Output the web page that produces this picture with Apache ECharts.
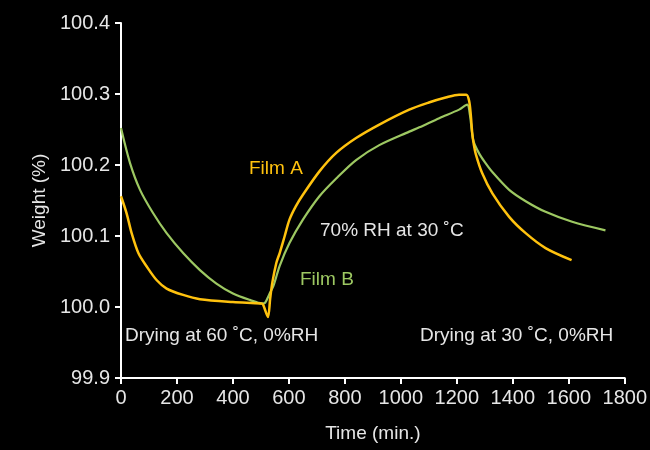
<!DOCTYPE html>
<html>
<head>
<meta charset="utf-8">
<script src="https://cdn.jsdelivr.net/npm/echarts@6/dist/echarts.min.js"></script>
<style>
html,body{margin:0;padding:0;background:#000;}
#chart{width:650px;height:450px;}
</style>
</head>
<body>
<div id="chart"></div>
<script>
const xTicks = [0, 200, 400, 600, 800, 1000, 1200, 1400, 1600, 1800];
const yTicks = [99.9, 100.0, 100.1, 100.2, 100.3, 100.4];

const filmATime = [0, 20, 38, 62, 92, 127, 163, 222, 282, 400, 500, 507, 525, 533, 541, 555, 567, 585, 602, 625, 650, 709, 769, 840, 923, 1030, 1100, 1160, 1208, 1234, 1244, 1250, 1255, 1261, 1268, 1290, 1327, 1387, 1446, 1517, 1610];
const filmAWeight = [100.156, 100.132, 100.104, 100.076, 100.057, 100.038, 100.026, 100.017, 100.011, 100.007, 100.005, 100.004, 99.986, 100.012, 100.035, 100.062, 100.076, 100.100, 100.123, 100.142, 100.158, 100.191, 100.217, 100.238, 100.257, 100.278, 100.288, 100.295, 100.299, 100.299, 100.290, 100.270, 100.245, 100.228, 100.215, 100.189, 100.160, 100.127, 100.104, 100.083, 100.066];

const filmBTime = [0, 32, 68, 115, 163, 222, 282, 341, 400, 460, 505, 515, 530, 545, 567, 602, 650, 709, 769, 840, 923, 1030, 1066, 1137, 1208, 1237, 1247, 1253, 1260, 1280, 1300, 1327, 1387, 1446, 1517, 1612, 1731];
const filmBWeight = [100.252, 100.203, 100.165, 100.132, 100.104, 100.076, 100.052, 100.033, 100.019, 100.010, 100.005, 100.006, 100.018, 100.030, 100.058, 100.090, 100.123, 100.156, 100.181, 100.207, 100.228, 100.247, 100.253, 100.266, 100.278, 100.285, 100.270, 100.250, 100.233, 100.216, 100.204, 100.190, 100.165, 100.149, 100.134, 100.120, 100.108];

const seriesNames = ['Film A', 'Film B'];
const annotations = ['Film A', '70% RH at 30 \u02DAC', 'Film B', 'Drying at 60 \u02DAC, 0%RH', 'Drying at 30 \u02DAC, 0%RH'];

const FONT = "'Liberation Sans', Arial, sans-serif";
const ORANGE = '#FFC20E';
const GREEN = '#9DC862';
const TXT = '#E6E6E6';

const zip = (xs, ys) => xs.map((x, i) => [x, ys[i]]);

const chart = echarts.init(document.getElementById('chart'), null, {renderer: 'canvas'});
chart.setOption({
  backgroundColor: '#000',
  animation: false,
  grid: {left: 121, right: 24, top: 23, bottom: 72},
  xAxis: {
    type: 'value',
    min: xTicks[0], max: xTicks[xTicks.length - 1], interval: 200,
    name: 'Time (min.)', nameLocation: 'middle', nameGap: 46,
    nameTextStyle: {color: TXT, fontSize: 19, fontFamily: FONT},
    axisLine: {show: true, lineStyle: {color: '#fff', width: 2}},
    axisTick: {show: true, length: 6, inside: false, lineStyle: {color: '#fff', width: 2}},
    axisLabel: {color: TXT, fontSize: 20, fontFamily: FONT, margin: 10,
      formatter: v => String(v)},
    splitLine: {show: false}
  },
  yAxis: {
    type: 'value',
    min: yTicks[0], max: yTicks[yTicks.length - 1], interval: 0.1,
    name: 'Weight (%)', nameLocation: 'middle', nameGap: 72, nameRotate: 90,
    nameTextStyle: {color: TXT, fontSize: 19, fontFamily: FONT},
    axisLine: {show: true, lineStyle: {color: '#fff', width: 2}},
    axisTick: {show: true, length: 6, inside: false, lineStyle: {color: '#fff', width: 2}},
    axisLabel: {color: TXT, fontSize: 20, fontFamily: FONT, margin: 11,
      formatter: v => Number(v).toFixed(1)},
    splitLine: {show: false}
  },
  series: [
    {
      name: seriesNames[0], type: 'line', data: zip(filmATime, filmAWeight),
      showSymbol: false, smooth: 0.3, z: 3,
      lineStyle: {color: ORANGE, width: 2.5}
    },
    {
      name: seriesNames[1], type: 'line', data: zip(filmBTime, filmBWeight),
      showSymbol: false, smooth: 0.3, z: 2,
      lineStyle: {color: GREEN, width: 2.2}
    }
  ],
  graphic: [
    {type: 'text', left: 249, top: 159, style: {text: annotations[0], fill: ORANGE, font: '19px ' + FONT}},
    {type: 'text', left: 320, top: 221, style: {text: annotations[1], fill: TXT, font: '19px ' + FONT}},
    {type: 'text', left: 300, top: 270, style: {text: annotations[2], fill: GREEN, font: '19px ' + FONT}},
    {type: 'text', left: 125, top: 326, style: {text: annotations[3], fill: TXT, font: '19px ' + FONT}},
    {type: 'text', left: 420, top: 326, style: {text: annotations[4], fill: TXT, font: '19px ' + FONT}}
  ]
});
</script>
</body>
</html>
